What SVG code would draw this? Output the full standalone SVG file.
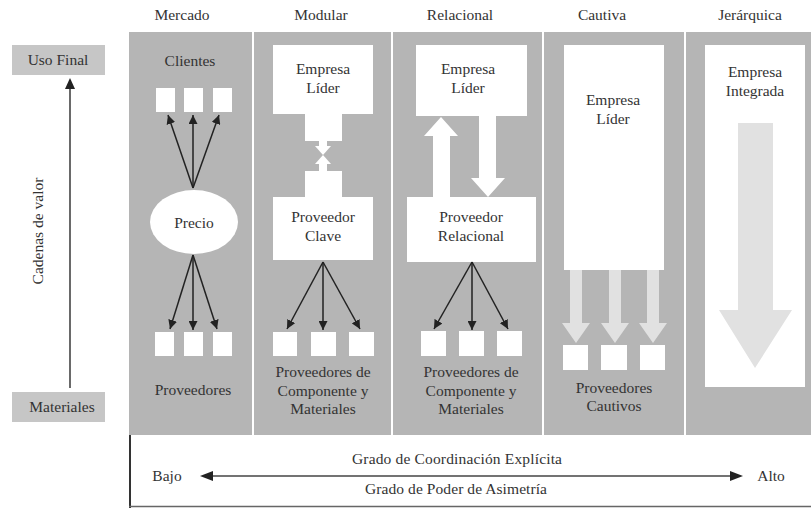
<svg xmlns="http://www.w3.org/2000/svg" width="811" height="508" viewBox="0 0 811 508" font-family="'Liberation Serif', 'Times New Roman', 'DejaVu Serif', serif">
<defs>
<style>
text{font-family:'Liberation Serif','Times New Roman','DejaVu Serif',serif;font-size:15.5px;fill:#333;text-anchor:middle}
.panel{fill:#b5b5b5}
.side{fill:#c6c6c6}
.w{fill:#fff}
.lt{fill:#e1e1e1}
.div{stroke:#fff;stroke-width:2}
.con{stroke:#222;stroke-width:1.5;fill:none;marker-end:url(#ah)}
.axis{stroke:#444;stroke-width:1.6;fill:none}
</style>
<marker id="ah" viewBox="0 0 10 10" refX="10" refY="5" markerWidth="6" markerHeight="6" markerUnits="strokeWidth" orient="auto">
<path d="M0,0 L10,5 L0,10 z" fill="#222"/>
</marker>
</defs>
<rect width="811" height="508" fill="#fff"/>

<!-- left axis -->
<g id="uso-final">
<rect class="side" x="12" y="45" width="93" height="30"/>
<text x="58" y="65">Uso Final</text>
</g>
<g id="materiales">
<rect class="side" x="12" y="392" width="93" height="30"/>
<text x="62" y="412">Materiales</text>
</g>
<g id="cadenas-label">
<text transform="translate(43,231) rotate(-90)">Cadenas de valor</text>
</g>

<!-- panel background and dividers -->
<g id="panel">
<rect class="panel" x="129" y="32" width="682" height="403"/>
<line class="div" x1="253" y1="32" x2="253" y2="435"/>
<line class="div" x1="392" y1="32" x2="392" y2="435"/>
<line class="div" x1="543" y1="32" x2="543" y2="435"/>
<line class="div" x1="685" y1="32" x2="685" y2="435"/>
</g>

<!-- headers -->
<g id="headers">
<text x="182" y="20">Mercado</text>
<text x="321" y="20">Modular</text>
<text x="460" y="20">Relacional</text>
<text x="602" y="20">Cautiva</text>
<text x="750" y="20">Jerárquica</text>
</g>

<!-- Mercado -->
<g id="mercado-clientes">
<text x="190" y="66">Clientes</text>
<rect class="w" x="156" y="88" width="19" height="24"/>
<rect class="w" x="184" y="88" width="19" height="24"/>
<rect class="w" x="213" y="88" width="19" height="24"/>
</g>
<g id="mercado-precio">
<ellipse class="w" cx="194" cy="222" rx="44" ry="32"/>
<text x="194" y="228">Precio</text>
</g>
<g id="mercado-proveedores">
<rect class="w" x="155" y="332" width="19" height="24"/>
<rect class="w" x="184" y="332" width="19" height="24"/>
<rect class="w" x="213" y="332" width="19" height="24"/>
<text x="193" y="395">Proveedores</text>
</g>

<!-- Modular -->
<g id="modular-lider">
<rect class="w" x="273" y="45" width="100" height="69"/>
<text x="323" y="74">Empresa</text>
<text x="323" y="93">Líder</text>
</g>
<g id="modular-link">
<rect class="w" x="305" y="113" width="37" height="28"/>
<rect class="w" x="319" y="140" width="8" height="7"/>
<polygon class="w" points="315,146 331,146 323,155"/>
<polygon class="w" points="323,155 331,164 315,164"/>
<rect class="w" x="319" y="163" width="8" height="9"/>
<rect class="w" x="305" y="171" width="37" height="28"/>
</g>
<g id="modular-clave">
<rect class="w" x="273" y="197" width="100" height="63"/>
<text x="323" y="222">Proveedor</text>
<text x="323" y="241">Clave</text>
</g>
<g id="modular-proveedores">
<rect class="w" x="273" y="332" width="24" height="24"/>
<rect class="w" x="311" y="332" width="25" height="24"/>
<rect class="w" x="349" y="332" width="25" height="24"/>
<text x="323" y="377">Proveedores de</text>
<text x="323" y="396">Componente y</text>
<text x="323" y="414">Materiales</text>
</g>

<!-- Relacional -->
<g id="relacional-lider">
<rect class="w" x="416" y="45" width="111" height="71"/>
<text x="468" y="74">Empresa</text>
<text x="468" y="93">Líder</text>
</g>
<g id="relacional-flechas">
<polygon class="w" points="433,198 433,136 424,136 441,117 458,136 450,136 450,198"/>
<polygon class="w" points="479,115 496,115 496,178 505,178 488,197 471,178 479,178"/>
</g>
<g id="relacional-proveedor">
<rect class="w" x="407" y="197" width="129" height="65"/>
<text x="471" y="222">Proveedor</text>
<text x="471" y="241">Relacional</text>
</g>
<g id="relacional-proveedores">
<rect class="w" x="421" y="331" width="25" height="25"/>
<rect class="w" x="459" y="331" width="25" height="25"/>
<rect class="w" x="497" y="331" width="25" height="25"/>
<text x="471" y="377">Proveedores de</text>
<text x="471" y="396">Componente y</text>
<text x="471" y="414">Materiales</text>
</g>

<!-- Cautiva -->
<g id="cautiva-lider">
<rect class="w" x="564" y="45" width="100" height="225"/>
<text x="613" y="105">Empresa</text>
<text x="613" y="124">Líder</text>
</g>
<g id="cautiva-flechas">
<polygon class="lt" points="570,270 582,270 582,323 590,323 576,343 562,323 570,323"/>
<polygon class="lt" points="609,270 621,270 621,323 629,323 615,343 601,323 609,323"/>
<polygon class="lt" points="647,270 659,270 659,323 667,323 653,343 639,323 647,323"/>
</g>
<g id="cautiva-proveedores">
<rect class="w" x="563" y="345" width="25" height="25"/>
<rect class="w" x="601" y="345" width="26" height="25"/>
<rect class="w" x="640" y="345" width="25" height="25"/>
<text x="614" y="393">Proveedores</text>
<text x="614" y="411">Cautivos</text>
</g>

<!-- Jerárquica -->
<g id="jerarquica-integrada">
<rect class="w" x="705" y="45" width="100" height="342"/>
<text x="755" y="77">Empresa</text>
<text x="755" y="96">Integrada</text>
<polygon class="lt" points="738,123 773,123 773,310 792,310 755,368 719,310 738,310"/>
</g>

<!-- bottom scale -->
<g id="escala">
<rect x="130" y="435" width="681" height="72" fill="#fff"/>
<line x1="130" y1="435" x2="130" y2="508" stroke="#333" stroke-width="2"/>
<line x1="129" y1="506.5" x2="811" y2="506.5" stroke="#666" stroke-width="1.5"/>
<text x="457" y="464" textLength="210" lengthAdjust="spacing">Grado de Coordinación Explícita</text>
<text x="456" y="494" textLength="182" lengthAdjust="spacing">Grado de Poder de Asimetría</text>
<text x="167" y="481">Bajo</text>
<text x="771" y="481">Alto</text>
</g>

<!-- connectors -->
<g id="connectors">
<line class="axis" x1="70" y1="388" x2="70" y2="88"/>
<polygon points="70,78 65,89 75,89" fill="#222"/>
<line class="axis" x1="212" y1="476" x2="731" y2="476"/>
<polygon points="200,476 213,471 213,481" fill="#222"/>
<polygon points="743,476 730,471 730,481" fill="#222"/>
<line class="con" x1="193" y1="188" x2="168" y2="115"/>
<line class="con" x1="193" y1="188" x2="193" y2="115"/>
<line class="con" x1="193" y1="188" x2="219" y2="115"/>
<line class="con" x1="193" y1="255" x2="170" y2="329"/>
<line class="con" x1="193" y1="255" x2="193" y2="330"/>
<line class="con" x1="193" y1="255" x2="217" y2="329"/>
<line class="con" x1="323" y1="262" x2="287" y2="329"/>
<line class="con" x1="323" y1="262" x2="323" y2="330"/>
<line class="con" x1="323" y1="262" x2="360" y2="329"/>
<line class="con" x1="472" y1="262" x2="434" y2="329"/>
<line class="con" x1="472" y1="262" x2="472" y2="330"/>
<line class="con" x1="472" y1="262" x2="508" y2="329"/>
</g>
</svg>
